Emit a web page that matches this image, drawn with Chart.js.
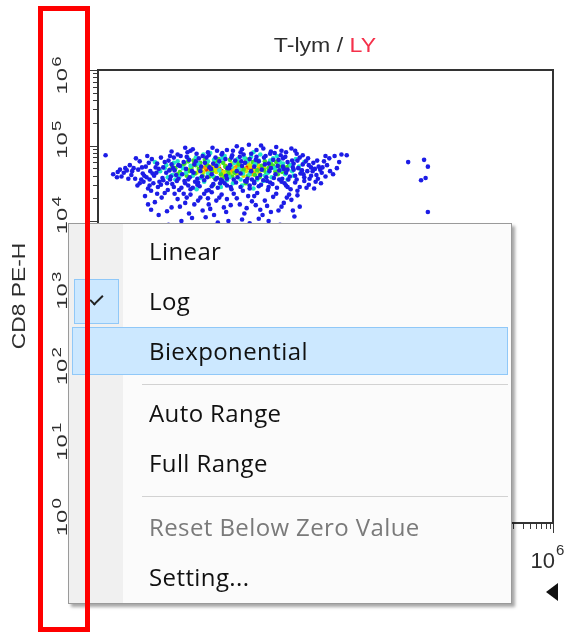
<!DOCTYPE html>
<html lang="en">
<head>
<meta charset="UTF-8">
<script src="https://cdn.jsdelivr.net/npm/chart.js@4.4.0/dist/chart.umd.min.js"></script>
<title>T-lym / LY</title>
<style>
  body { margin: 0; background: #fff; }
  #wrap { position: relative; width: 568px; height: 632px; overflow: hidden; font-family: "Liberation Sans", Arial, sans-serif; }
  #plot { position: absolute; left: 0; top: 0; }
  #plotTitle { position: absolute; left: 225px; top: 33px; width: 200px; text-align: center; font-size: 21px; line-height: 24px; color: #2e2e2e; transform: scaleX(1.1); }
  #plotTitle .gate { color: #f5304a; }
  #yTitle { position: absolute; left: -41px; top: 285px; width: 120px; height: 22px; line-height: 22px; text-align: center; font-size: 19px; color: #2e2e2e; transform: rotate(-90deg) scaleX(1.2); }
  #menu { position: absolute; left: 68px; top: 223px; width: 444px; height: 381px; box-sizing: border-box; background: #fbfbfb; border: 1px solid #9a9a9a; box-shadow: 3px 3px 3px rgba(0,0,0,0.35); font-family: "Open Sans", sans-serif; font-size: 24px; letter-spacing: 0.4px; color: #111; }
  #gutter { position: absolute; left: 0; top: 0; bottom: 0; width: 54px; background: #f0f0f0; }
  #checkBox { position: absolute; left: 5px; top: 55px; width: 45px; height: 45px; box-sizing: border-box; background: #cce8ff; border: 1px solid #90c8f8; }
  #checkMark { position: absolute; left: 18px; top: 12px; width: 5px; height: 11px; border-right: 2px solid #222; border-bottom: 2px solid #222; transform: rotate(45deg); }
  #hover { position: absolute; left: 3px; top: 103px; width: 436px; height: 48px; box-sizing: border-box; background: #cce8ff; border: 1px solid #90c8f8; }
  .item { position: absolute; left: 80px; height: 50px; line-height: 50px; white-space: nowrap; }
  .item.off { color: #7a7a7a; }
  .sep { position: absolute; left: 73px; width: 366px; height: 1px; background: #d2d2d2; }
  #redBox { position: absolute; left: 38px; top: 6px; width: 52px; height: 626px; box-sizing: border-box; border: 5px solid #ff0000; }
  #axisArrow { position: absolute; left: 546px; top: 583px; width: 0; height: 0; border-top: 9px solid transparent; border-bottom: 9px solid transparent; border-right: 12px solid #111; }
</style>
</head>
<body>
<div id="wrap">
  <canvas id="plot" width="568" height="632"></canvas>
  <div id="plotTitle">T-lym / <span class="gate">LY</span></div>
  <div id="yTitle">CD8 PE-H</div>
  <div id="axisArrow"></div>
  <div id="menu">
    <div id="gutter"></div>
    <div id="checkBox"><span id="checkMark"></span></div>
    <div id="hover"></div>
    <div class="item" style="top:2px">Linear</div>
    <div class="item" style="top:52px">Log</div>
    <div class="item" style="top:102px">Biexponential</div>
    <div class="sep" style="top:160px"></div>
    <div class="item" style="top:164px">Auto Range</div>
    <div class="item" style="top:214px">Full Range</div>
    <div class="sep" style="top:272px"></div>
    <div class="item off" style="top:278px">Reset Below Zero Value</div>
    <div class="item" style="top:328px">Setting...</div>
  </div>
  <div id="redBox"></div>
</div>

<script type="text/javascript">
// axis decades, shown as 10^n
var tickBase = '10';
var tickPowers = ['0', '1', '2', '3', '4', '5', '6'];

// events as [log10 x, log10 y] pairs, grouped by density colour
var blueEvents = [
  1.05,4.88, 1.22,4.93, 1.38,4.86, 1.51,4.97, 1.64,4.90, 1.77,4.87, 1.90,4.95, 2.02,4.89, 2.15,5.00, 2.28,4.92,
  2.41,4.87, 2.55,4.96, 1.15,4.97, 1.45,4.91, 1.83,4.99, 2.09,4.94, 2.35,4.98, 2.62,4.89, 0.95,4.86, 1.70,4.94,
  1.99,5.01, 2.21,4.86, 2.48,4.91, 1.30,4.89, 2.70,4.87,
  0.42,4.74, 0.55,4.79, 0.63,4.72, 0.71,4.82, 0.78,4.76, 0.86,4.71, 0.93,4.80, 1.00,4.84, 1.08,4.73, 1.13,4.78,
  1.20,4.81, 1.27,4.75, 1.33,4.83, 1.41,4.77, 1.47,4.71, 1.55,4.84, 1.60,4.79, 1.68,4.82, 1.74,4.74, 1.81,4.80,
  1.87,4.85, 1.94,4.77, 2.00,4.82, 2.06,4.72, 2.12,4.79, 2.19,4.84, 2.25,4.76, 2.31,4.81, 2.37,4.73, 2.44,4.83,
  2.50,4.78, 2.57,4.71, 2.63,4.80, 2.70,4.75, 2.77,4.83, 2.84,4.77, 2.91,4.72, 2.98,4.79, 0.50,4.83, 0.67,4.77,
  0.83,4.84, 0.97,4.75, 1.17,4.85, 1.36,4.72, 1.52,4.76, 1.71,4.70, 1.90,4.73, 2.09,4.85, 2.28,4.70, 2.47,4.85,
  2.66,4.84, 2.81,4.71, 3.05,4.83, 3.12,4.86, 3.28,4.87, 3.21,4.88, 0.36,4.70,
  0.20,4.62, 0.26,4.65, 0.31,4.59, 0.38,4.67, 0.44,4.61, 0.49,4.56, 0.53,4.68, 0.59,4.63, 0.64,4.58, 0.69,4.66,
  0.74,4.60, 0.80,4.69, 0.85,4.57, 0.90,4.64, 0.96,4.59, 1.01,4.67, 1.06,4.56, 1.11,4.62, 1.16,4.69, 1.21,4.58,
  1.26,4.64, 1.31,4.56, 1.44,4.58, 1.57,4.57, 1.70,4.56, 1.84,4.58, 1.97,4.56, 2.10,4.57, 2.22,4.58, 2.34,4.62,
  2.39,4.67, 2.43,4.56, 2.48,4.64, 2.53,4.59, 2.58,4.68, 2.62,4.55, 2.67,4.63, 2.72,4.58, 2.76,4.66, 2.81,4.60,
  2.86,4.69, 2.90,4.56, 2.95,4.64, 3.00,4.59, 3.06,4.66, 0.34,4.64, 0.57,4.55, 0.77,4.64, 0.99,4.70, 1.19,4.55,
  2.26,4.66, 2.45,4.69, 2.69,4.67, 2.88,4.61, 3.10,4.62, 2.03,4.55, 1.62,4.55, 0.47,4.70, 0.68,4.55, 2.60,4.60,
  2.79,4.56, 2.93,4.68, 1.35,4.66, 1.49,4.69, 1.88,4.63, 2.16,4.68, 1.73,4.70,
  0.52,4.47, 0.60,4.52, 0.66,4.43, 0.73,4.50, 0.79,4.45, 0.86,4.54, 0.92,4.41, 0.98,4.49, 1.04,4.53, 1.10,4.44,
  1.15,4.50, 1.22,4.42, 1.28,4.52, 1.34,4.46, 1.40,4.54, 1.46,4.41, 1.52,4.49, 1.58,4.44, 1.64,4.53, 1.70,4.47,
  1.76,4.42, 1.82,4.51, 1.88,4.45, 1.94,4.53, 2.00,4.43, 2.06,4.50, 2.12,4.46, 2.18,4.54, 2.24,4.41, 2.30,4.49,
  2.36,4.44, 2.42,4.52, 2.48,4.47, 2.54,4.42, 2.60,4.51, 2.66,4.45, 2.72,4.53, 2.78,4.48, 2.85,4.43, 0.70,4.40,
  0.95,4.55, 1.19,4.47, 1.43,4.40, 1.67,4.50, 1.91,4.40, 2.15,4.48, 2.39,4.55, 2.63,4.40, 1.07,4.41, 1.55,4.55,
  2.27,4.51, 2.51,4.55, 0.83,4.48, 1.31,4.48, 1.79,4.55,
  0.62,4.33, 0.75,4.25, 0.88,4.37, 0.97,4.18, 1.05,4.29, 1.13,4.36, 1.20,4.10, 1.27,4.22, 1.35,4.31, 1.42,4.05,
  1.48,4.16, 1.56,4.27, 1.63,4.35, 1.69,4.12, 1.75,4.21, 1.83,4.30, 1.90,4.02, 1.96,4.17, 2.03,4.26, 2.10,4.37,
  2.17,4.08, 2.23,4.20, 2.31,4.32, 2.38,4.14, 2.45,4.24, 2.52,4.35, 2.59,4.06, 2.66,4.19, 1.10,4.00, 1.58,3.98,
  2.00,3.97, 1.30,3.90, 1.85,3.92, 2.25,4.00, 0.80,4.08, 0.93,3.95, 1.50,4.38, 2.40,3.95, 1.15,4.24, 1.72,4.00,
  2.14,4.15, 0.70,4.15, 2.55,4.28, 1.38,4.14, 1.98,4.33,
  0.66,4.22, 0.84,4.31, 0.91,4.13, 1.01,4.36, 1.08,4.19, 1.17,4.31, 1.24,4.04, 1.32,4.27, 1.40,4.36, 1.46,4.22,
  1.53,4.08, 1.60,4.31, 1.66,4.18, 1.79,4.36, 1.87,4.22, 1.93,4.10, 2.06,4.33, 2.12,4.03, 2.20,4.27, 2.28,4.12,
  2.35,4.36, 2.42,4.19, 2.49,4.31, 2.57,4.14, 2.63,4.34, 1.22,4.35, 1.70,4.29, 2.08,4.21, 1.45,4.30, 0.78,4.36,
  0.58,4.71, 0.65,4.86, 0.72,4.63, 0.81,4.52, 0.88,4.78, 0.94,4.67, 1.03,4.61, 1.09,4.86, 1.14,4.53, 1.24,4.66,
  1.29,4.79, 1.37,4.59, 1.43,4.84, 1.50,4.62, 1.56,4.73, 1.63,4.88, 1.69,4.60, 1.76,4.84, 1.83,4.66, 1.89,4.79,
  1.96,4.52, 2.02,4.66, 2.08,4.81, 2.14,4.61, 2.20,4.75, 2.27,4.89, 2.32,4.57, 2.38,4.81, 2.44,4.72, 2.50,4.68,
  2.56,4.80, 2.64,4.70, 2.71,4.62, 2.78,4.74, 2.83,4.66, 2.89,4.80, 2.96,4.71, 3.02,4.74, 3.15,4.70, 0.45,4.66,
  0.61,4.60, 0.76,4.71, 0.91,4.50, 1.06,4.74, 1.18,4.91, 1.32,4.51, 1.46,4.87, 1.61,4.50, 1.78,4.93, 1.92,4.88,
  2.06,4.52, 2.23,4.53, 2.33,4.90, 2.46,4.50, 2.58,4.76, 2.74,4.79, 2.87,4.52, 0.97,4.92, 1.25,4.95, 1.57,4.93,
  1.88,4.91, 2.18,4.96, 2.42,4.93, 2.60,4.93, 0.55,4.50, 0.40,4.56, 0.29,4.68, 0.25,4.58, 3.18,4.78, 3.00,4.86,
  2.94,4.50, 1.00,4.45, 1.25,4.44, 1.50,4.46, 1.75,4.45, 2.00,4.47, 2.25,4.45, 2.50,4.45, 0.68,4.47, 2.75,4.44,
  4.09,4.78, 4.30,4.81, 4.35,4.72, 4.26,4.54, 4.32,4.57, 4.35,4.12, 0.10,4.87
];
var cyanEvents = [
  0.82,4.66, 0.90,4.74, 0.98,4.61, 1.05,4.79, 1.12,4.70, 1.18,4.84, 1.25,4.60, 1.32,4.76, 1.39,4.88, 1.45,4.63,
  1.53,4.81, 1.60,4.67, 1.67,4.86, 1.73,4.58, 1.80,4.77, 1.86,4.69, 1.93,4.84, 2.00,4.62, 2.07,4.75, 2.14,4.88,
  2.20,4.60, 2.27,4.80, 2.33,4.70, 2.40,4.78, 2.47,4.62, 2.54,4.74, 2.61,4.82, 2.68,4.67, 1.02,4.55, 1.40,4.52,
  1.78,4.50, 2.18,4.53, 2.50,4.55, 0.75,4.78, 1.22,4.73, 1.58,4.75, 1.97,4.79, 2.36,4.86, 1.10,4.62, 1.88,4.55,
  2.58,4.60, 1.48,4.90, 2.05,4.91,
  0.88,4.70, 1.00,4.77, 1.07,4.58, 1.16,4.64, 1.29,4.84, 1.35,4.57, 1.51,4.60, 1.64,4.83, 1.70,4.54, 1.84,4.82,
  1.91,4.63, 2.02,4.85, 2.10,4.55, 2.24,4.64, 2.31,4.83, 2.44,4.76, 2.56,4.66, 2.65,4.72, 2.72,4.78, 0.92,4.58,
  1.45,4.79, 1.76,4.72, 2.12,4.80, 2.29,4.58, 2.42,4.68, 1.30,4.42, 1.62,4.45, 2.05,4.43, 1.90,4.47
];
var greenEvents = [
  1.02,4.70, 1.08,4.65, 1.14,4.76, 1.20,4.66, 1.26,4.80, 1.33,4.69, 1.38,4.60, 1.44,4.74, 1.50,4.66, 1.56,4.79,
  1.62,4.62, 1.68,4.72, 1.74,4.81, 1.80,4.64, 1.86,4.75, 1.92,4.68, 1.98,4.60, 2.04,4.78, 2.10,4.67, 2.16,4.73,
  2.22,4.63, 2.28,4.76, 2.34,4.66, 2.40,4.72, 2.46,4.68, 1.17,4.60, 1.29,4.74, 1.53,4.58, 1.65,4.77, 1.77,4.59,
  1.95,4.82, 2.07,4.61, 2.25,4.70, 2.37,4.62, 1.41,4.81, 0.95,4.68, 2.52,4.74, 1.23,4.70, 1.71,4.67, 2.13,4.58,
  1.11,4.73, 1.19,4.79, 1.35,4.77, 1.47,4.59, 1.59,4.82, 1.72,4.63, 1.83,4.78, 1.90,4.64, 2.01,4.65, 2.08,4.76,
  2.19,4.67, 2.31,4.73, 2.43,4.65, 2.49,4.71, 1.05,4.62, 1.28,4.63, 1.67,4.58, 2.20,4.79, 2.35,4.78, 0.98,4.73,
  1.52,4.48, 1.95,4.50
];
var yellowEvents = [
  1.18,4.68, 1.24,4.73, 1.30,4.64, 1.36,4.70, 1.42,4.77, 1.47,4.62, 1.54,4.69, 1.59,4.74, 1.66,4.65, 1.71,4.71,
  1.77,4.76, 1.83,4.62, 1.89,4.70, 1.95,4.66, 2.01,4.73, 2.07,4.68, 2.13,4.63, 2.19,4.71, 2.25,4.66, 1.27,4.77,
  1.50,4.72, 1.63,4.60, 1.80,4.68, 1.98,4.76, 2.11,4.74, 2.28,4.73, 1.39,4.65, 1.92,4.60, 1.56,4.65, 1.74,4.63
];
var orangeEvents = [
  1.34,4.68, 1.41,4.71, 1.48,4.66, 1.55,4.70, 1.61,4.67, 1.68,4.73, 1.75,4.68, 1.82,4.71, 1.88,4.65, 1.94,4.69,
  2.00,4.70, 2.06,4.65, 2.12,4.69, 1.45,4.73, 1.65,4.63, 1.85,4.74, 2.03,4.62, 1.58,4.72, 1.78,4.66
];
var redEvents = [
  1.43,4.68, 1.52,4.67, 1.60,4.69, 1.70,4.70, 1.79,4.69, 1.90,4.67, 1.97,4.71, 2.05,4.68, 1.63,4.66, 1.86,4.70
];

function toPoints(pairs) {
    var pts = [];
    for (var i = 0; i < pairs.length; i += 2) {
        pts.push({ x: Math.pow(10, pairs[i]), y: Math.pow(10, pairs[i + 1]) });
    }
    return pts;
}

function dots(data, colour) {
    return {
        data: toPoints(data),
        backgroundColor: colour,
        borderWidth: 0,
        pointRadius: 2.3,
        pointHoverRadius: 2.3
    };
}

// frame, log tick marks and 10^n labels
var logAxes = {
    id: 'logAxes',
    afterDatasetsDraw: function (chart) {
        var ctx = chart.ctx, a = chart.chartArea;
        var xs = chart.scales.x, ys = chart.scales.y;
        ctx.save();
        ctx.strokeStyle = '#3a3a3a';
        ctx.lineWidth = 1;
        ctx.beginPath();
        for (var d = 0; d < tickPowers.length; d++) {
            var dec = Math.pow(10, +tickPowers[d]);
            for (var m = 1; m <= 9; m++) {
                if (d == tickPowers.length - 1 && m > 1) break;
                var v = m * dec;
                var len = m == 1 ? 9 : 5;
                var py = Math.round(ys.getPixelForValue(v)) + 0.5;
                ctx.moveTo(a.left - len, py);
                ctx.lineTo(a.left, py);
                var px = Math.round(xs.getPixelForValue(v)) + 0.5;
                ctx.moveTo(px, a.bottom);
                ctx.lineTo(px, a.bottom + len + 1);
            }
        }
        ctx.stroke();
        ctx.lineWidth = 2;
        ctx.strokeStyle = '#333';
        ctx.strokeRect(a.left, a.top, a.right - a.left, a.bottom - a.top);

        ctx.fillStyle = '#2e2e2e';
        ctx.textBaseline = 'alphabetic';
        for (var i = 0; i < tickPowers.length; i++) {
            var val = Math.pow(10, +tickPowers[i]);
            // y labels, rotated
            var yp = ys.getPixelForValue(val);
            ctx.save();
            ctx.font = '19px "Liberation Sans", Arial, sans-serif';
            var w = ctx.measureText(tickBase).width * 1.25;
            if (yp - w / 2 - 13 < a.top - 15) yp = a.top - 15 + w / 2 + 13;
            ctx.translate(67, yp);
            ctx.rotate(-Math.PI / 2);
            ctx.scale(1.25, 0.8);
            ctx.textAlign = 'center';
            ctx.fillText(tickBase, 0, 0);
            ctx.font = '15px "Liberation Sans", Arial, sans-serif';
            ctx.textAlign = 'left';
            ctx.fillText(tickPowers[i], w / 2 / 1.25 + 1, -8);
            ctx.restore();
            // x labels
            var xp = xs.getPixelForValue(val);
            ctx.font = '22px "Liberation Sans", Arial, sans-serif';
            ctx.textAlign = 'right';
            ctx.fillText(tickBase, xp + 2, 568);
            ctx.font = '15px "Liberation Sans", Arial, sans-serif';
            ctx.textAlign = 'left';
            ctx.fillText(tickPowers[i], xp + 3, 555);
        }
        ctx.restore();
    }
};

var hidden = {
    type: 'logarithmic',
    min: 1,
    max: 1e6,
    ticks: { display: false },
    grid: { display: false, drawTicks: false },
    border: { display: false }
};

new Chart(document.getElementById('plot'), {
    type: 'scatter',
    data: {
        datasets: [
            dots(blueEvents, '#1c1ce6'),
            dots(cyanEvents, '#22e6c8'),
            dots(greenEvents, '#3fe02a'),
            dots(yellowEvents, '#d6e600'),
            dots(orangeEvents, '#ff9a00'),
            dots(redEvents, '#e8340a')
        ]
    },
    options: {
        responsive: false,
        animation: false,
        layout: { padding: { left: 98, top: 70, right: 15, bottom: 109 } },
        plugins: { legend: { display: false }, tooltip: { enabled: false } },
        scales: { x: hidden, y: Object.assign({}, hidden) }
    },
    plugins: [logAxes]
});
</script>
</body>
</html>
